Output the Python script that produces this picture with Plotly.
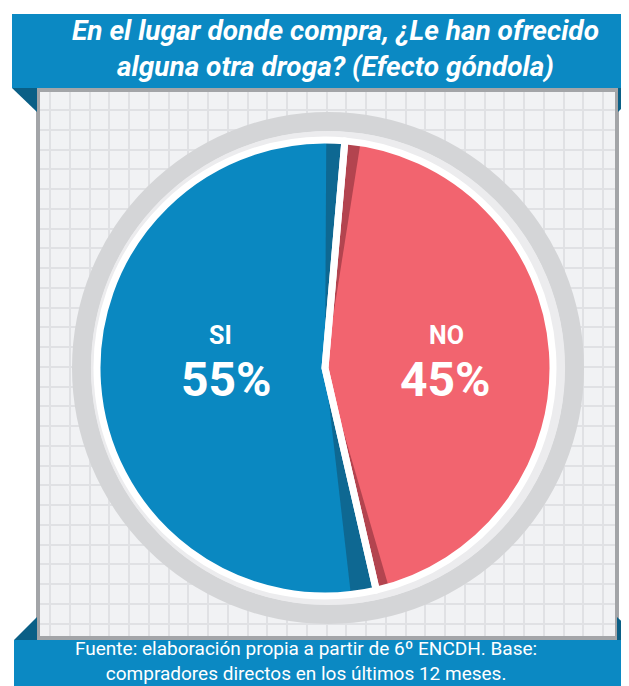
import plotly.graph_objects as go

# the page body adds an 8px margin, so the figure is 8px smaller
OFF = 8
W, H = 629 - OFF, 686 - OFF

# data
labels = ["NO", "SI"]
values = [45, 55]

title_lines = ["En el lugar donde compra, ¿Le han ofrecido",
               "alguna otra droga? (Efecto góndola)"]
source_lines = ["Fuente: elaboración propia a partir de 6º ENCDH. Base:",
                "compradores directos en los últimos 12 meses."]

# colours
BLUE = "#0a88c1"
BLUE_DARK = "#0e6892"
RED = "#f2646f"
RED_DARK = "#b3444f"
BANNER = "#0b89c3"
FOLD = "#0a5f86"
RING = "#d4d5d7"
BAND = "#ececee"
CLEAR = "rgba(0,0,0,0)"

rotation = 5
# widths of the dark bevel strips beside each cut (same units as values)
s_red_top, s_red_bot, s_blue_bot, s_blue_top = 1.1, 0.9, 1.8, 1.3


def px(x):
    return (x - OFF) / W


def py(y):
    return 1 - (y - OFF) / H


def domain(cx, cy, r):
    # plotly draws the pie ~3px inside its domain
    r += 3
    return dict(x=[px(cx - r), px(cx + r)], y=[py(cy + r), py(cy - r)])


cx, cy, r = 325, 368, 225
dom = domain(cx, cy, r)

no_v, si_v = values
bevel_values = [s_red_top, no_v - s_red_top - s_red_bot, s_red_bot,
                s_blue_bot, si_v - s_blue_bot - s_blue_top, s_blue_top]
bevel_colors = [RED_DARK, CLEAR, RED_DARK, BLUE_DARK, CLEAR, BLUE_DARK]

common = dict(sort=False, direction="clockwise", textinfo="none",
              hoverinfo="skip", showlegend=False)

fig = go.Figure()
# empty trace so the grid panel (cartesian axes) gets drawn
fig.add_trace(go.Scatter(x=[None], y=[None], showlegend=False, hoverinfo="skip"))
# grey ring and light band around the pie
fig.add_trace(go.Pie(values=[1], hole=234 / 253, domain=domain(328, 368, 253),
                     marker=dict(colors=[RING], line=dict(width=0)), **common))
fig.add_trace(go.Pie(values=[1], domain=domain(328, 368, 234),
                     marker=dict(colors=[BAND], line=dict(width=0)), **common))
# the pie, its bevel strips and the white cuts
fig.add_trace(go.Pie(labels=labels, values=values, domain=dom, rotation=rotation,
                     marker=dict(colors=[RED, BLUE], line=dict(width=0)), **common))
fig.add_trace(go.Pie(values=bevel_values, domain=dom, rotation=rotation,
                     marker=dict(colors=bevel_colors, line=dict(width=0)), **common))
fig.add_trace(go.Pie(labels=labels, values=values, domain=dom, rotation=rotation,
                     marker=dict(colors=[CLEAR, CLEAR], line=dict(color="white", width=7)),
                     **common))

shapes = []
# banners
shapes.append(dict(type="rect", xref="paper", yref="paper", x0=px(12), x1=px(640),
                   y0=py(88), y1=py(14), fillcolor=BANNER, line=dict(width=0)))
shapes.append(dict(type="rect", xref="paper", yref="paper", x0=px(14), x1=px(640),
                   y0=py(690), y1=py(640), fillcolor=BANNER, line=dict(width=0)))
# ribbon folds
folds = [[(12, 88), (37, 88), (37, 112)],
         [(618, 88), (642, 88), (618, 112)],
         [(14, 640), (37, 640), (37, 617)],
         [(617, 640), (641, 640), (617, 617)]]
for tri in folds:
    path = "M " + " L ".join(f"{px(x):.5f},{py(y):.5f}" for x, y in tri) + " Z"
    shapes.append(dict(type="path", xref="paper", yref="paper", path=path,
                       fillcolor=FOLD, line=dict(width=0)))

annotations = []
title_font = dict(family="Roboto", size=28, color="white",
                  weight="bold", style="italic")
for text, y in zip(title_lines, [31, 67]):
    annotations.append(dict(text=text, x=px(335), y=py(y), xref="paper", yref="paper",
                            showarrow=False, xanchor="center", yanchor="middle",
                            font=title_font))
annotations.append(dict(text="<br>".join(source_lines), x=px(306), y=py(661),
                        xref="paper", yref="paper", showarrow=False,
                        xanchor="center", yanchor="middle",
                        font=dict(family="Roboto", size=19, color="white")))
# slice labels
for lab, val, x in zip(labels, values, [446, 220]):
    annotations.append(dict(text=lab, x=px(x), y=py(335), xref="paper", yref="paper",
                            showarrow=False, xanchor="center", yanchor="middle",
                            font=dict(family="Roboto", size=25, color="white",
                                      weight="bold")))
    annotations.append(dict(text=f"{val}%", x=px(x - 1 if lab == "NO" else x + 6),
                            y=py(379), xref="paper", yref="paper", showarrow=False,
                            xanchor="center", yanchor="middle",
                            font=dict(family="Roboto", size=48, color="white",
                                      weight="bold")))

fig.update_layout(
    width=W, height=H, margin=dict(l=0, r=0, t=0, b=0),
    paper_bgcolor="white", plot_bgcolor="#f1f2f4",
    xaxis=dict(domain=[px(40), px(615)], range=[40, 615], tick0=50, dtick=19.75,
               showgrid=True, gridcolor="#e0e1e4", gridwidth=2, zeroline=False,
               showticklabels=False, ticks="", showline=True, linecolor="#a3a5a8",
               linewidth=4, mirror=True, fixedrange=True),
    yaxis=dict(domain=[py(636), py(92)], range=[636, 92], tick0=110, dtick=19.75,
               showgrid=True, gridcolor="#e0e1e4", gridwidth=2, zeroline=False,
               showticklabels=False, ticks="", showline=True, linecolor="#a3a5a8",
               linewidth=4, mirror=True, fixedrange=True),
    shapes=shapes,
    annotations=annotations,
)

fig.write_html("out.html")
